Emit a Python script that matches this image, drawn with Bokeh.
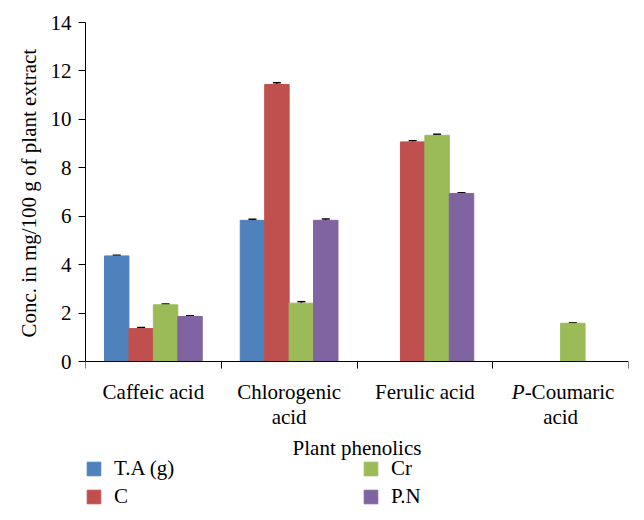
import math
from bokeh.plotting import figure
from bokeh.models import (ColumnDataSource, Range1d, FixedTicker, Whisker, Legend,
                          LegendItem, Label, LinearAxis, Title)
from bokeh.embed import file_html
from bokeh.resources import INLINE

categories = ["Caffeic acid", "Chlorogenic\nacid", "Ferulic acid", "P-Coumaric\nacid"]
series = ["T.A (g)", "C", "Cr", "P.N"]
colors = ["#4F81BD", "#C0504D", "#9BBB59", "#8064A2"]
NaN = float("nan")
values = {
    "T.A (g)": [4.36, 5.83, NaN, NaN],
    "C":       [1.36, 11.44, 9.07, NaN],
    "Cr":      [2.34, 2.41, 9.34, 1.58],
    "P.N":     [1.86, 5.83, 6.94, NaN],
}
errors = {
    "T.A (g)": [0.03, 0.04, NaN, NaN],
    "C":       [0.04, 0.07, 0.05, NaN],
    "Cr":      [0.03, 0.06, 0.04, 0.02],
    "P.N":     [0.03, 0.06, 0.03, NaN],
}
y_ticks = [0, 2, 4, 6, 8, 10, 12, 14]
y_max = 14
x_title = "Plant phenolics"
y_title = "Conc. in mg/100 g of plant extract"

FONT = "Liberation Serif"
FS = "21px"
bar_w = 0.18

# frame extends below zero so that category labels, axis title and legend sit inside it
px_per_unit = 339 / y_max
below_px = 148
below_units = below_px / px_per_unit

p = figure(width=636, height=510, output_backend="svg", toolbar_location=None,
           x_range=Range1d(0, len(categories)), y_range=Range1d(-below_units, y_max),
           x_axis_location=None,
           min_border_left=85, min_border_right=8, min_border_top=22, min_border_bottom=0)
p.frame_height = 339 + below_px
p.frame_width = 543
p.outline_line_color = None
p.xgrid.visible = False
p.ygrid.visible = False
p.background_fill_color = "white"

items = []
for k, s in enumerate(series):
    xs, tops, lo, hi = [], [], [], []
    for i, v in enumerate(values[s]):
        if math.isnan(v):
            continue
        x = i + 0.5 + (k - 1.5) * bar_w
        xs.append(x)
        tops.append(v)
        lo.append(v - errors[s][i])
        hi.append(v + errors[s][i])
    src = ColumnDataSource(dict(x=xs, top=tops, lower=lo, upper=hi))
    r = p.vbar(x="x", top="top", bottom=0, width=bar_w, source=src,
               fill_color=colors[k], line_color=colors[k])
    w = Whisker(base="x", lower="lower", upper="upper", source=src,
                line_color="black", line_width=1.5)
    w.upper_head.size = 8
    w.lower_head.size = 8
    w.upper_head.line_width = 1.5
    w.lower_head.line_width = 1.5
    p.add_layout(w)
    items.append(LegendItem(label=s, renderers=[r]))

# y axis (line only over 0..14)
yax = p.yaxis[0]
yax.bounds = (0, y_max)
yax.ticker = FixedTicker(ticks=y_ticks)
yax.minor_tick_line_color = None
yax.major_tick_in = 0
yax.major_tick_out = 7
yax.axis_line_color = "black"
yax.major_tick_line_color = "black"
yax.major_label_text_font = FONT
yax.major_label_text_font_size = FS
yax.major_label_text_color = "black"
yax.major_label_standoff = 7

# y title, placed alongside the 0..14 part of the axis
ytitle = Title(text=y_title, align="left", offset=172, standoff=14,
               text_font=FONT, text_font_size=FS, text_font_style="normal",
               text_color="black")
p.add_layout(ytitle, "left")

# x axis fixed at y = 0, ticks at the category boundaries
centers = [i + 0.5 for i in range(len(categories))]
bounds = [float(i) for i in range(len(categories) + 1)]
xax = LinearAxis(fixed_location=0)
xax.ticker = FixedTicker(ticks=centers, minor_ticks=bounds)
xax.major_label_overrides = {c: "" for c in centers}
xax.major_tick_in = 0
xax.major_tick_out = 0
xax.minor_tick_in = 0
xax.minor_tick_out = 7
xax.minor_tick_line_color = "black"
xax.axis_line_color = "black"
xax.major_label_standoff = 0
p.add_layout(xax, "below")

# category labels
line_step = 25
for c, lab in zip(centers, categories):
    for j, line in enumerate(lab.split("\n")):
        dy = -30 - line_step * j
        if line.startswith("P-"):
            p.add_layout(Label(x=c, y=0, text=line[0], text_font=FONT, text_font_size=FS,
                               text_font_style="italic", text_color="black",
                               text_align="right", text_baseline="alphabetic",
                               x_offset=-36, y_offset=dy))
            p.add_layout(Label(x=c, y=0, text=line[1:], text_font=FONT, text_font_size=FS,
                               text_color="black", text_align="left",
                               text_baseline="alphabetic", x_offset=-36, y_offset=dy))
        else:
            p.add_layout(Label(x=c, y=0, text=line, text_font=FONT, text_font_size=FS,
                               text_color="black", text_align="center",
                               text_baseline="alphabetic", y_offset=dy))

# x axis title
p.add_layout(Label(x=len(categories) / 2, y=0, text=x_title, text_font=FONT,
                   text_font_size=FS, text_color="black", text_align="center",
                   text_baseline="alphabetic", y_offset=-86))

legend = Legend(items=items, ncols=2, location=(0, 0), orientation="vertical")
legend.label_text_font = FONT
legend.label_text_font_size = FS
legend.label_text_color = "black"
legend.glyph_width = 17
legend.glyph_height = 17
legend.label_height = 17
legend.label_standoff = 12
legend.label_width = 245
legend.spacing = 3
legend.padding = 0
legend.margin = 0
legend.border_line_color = None
legend.background_fill_alpha = 0
p.add_layout(legend)

open("out.html", "w").write(file_html(p, INLINE))
